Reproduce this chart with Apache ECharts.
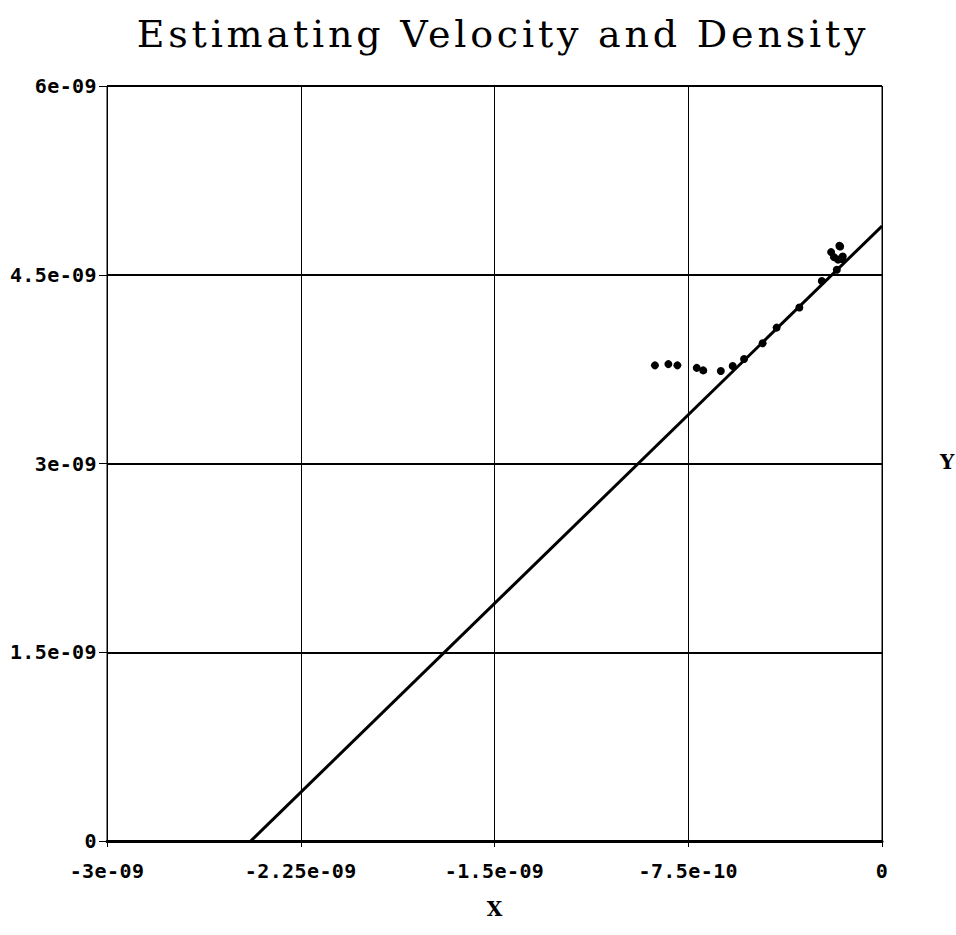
<!DOCTYPE html>
<html>
<head>
<meta charset="utf-8">
<script src="https://cdn.jsdelivr.net/npm/echarts@6/dist/echarts.min.js"></script>
<style>
  html, body { margin: 0; padding: 0; background: #fff; }
  #chart { width: 956px; height: 935px; }
  /* wide tracking for the heading, slight tracking for tick numbers */
  #chart text[style*="38px"] { letter-spacing: 3.8px; }
  #chart text[style*="Mono"] { letter-spacing: 0.4px; }
</style>
</head>
<body>
<div id="chart"></div>
<script>
// Measured samples
var sampleX = [-8.79e-10, -8.27e-10, -7.92e-10, -7.17e-10, -6.92e-10, -6.24e-10, -5.78e-10,
               -5.34e-10, -4.62e-10, -4.08e-10, -3.20e-10, -2.33e-10, -1.75e-10,
               -1.97e-10, -1.86e-10, -1.70e-10, -1.55e-10, -1.52e-10, -1.65e-10, -1.62e-10];
var sampleY = [3.78e-9, 3.79e-9, 3.78e-9, 3.76e-9, 3.74e-9, 3.735e-9, 3.775e-9,
               3.83e-9, 3.955e-9, 4.08e-9, 4.24e-9, 4.45e-9, 4.54e-9,
               4.68e-9, 4.64e-9, 4.62e-9, 4.625e-9, 4.645e-9, 4.73e-9, 4.725e-9];

// Fitted straight line (end points)
var fitX = [-2.4435e-9, 0];
var fitY = [0, 4.887e-9];

// Axis tick labels
var xTickValues = [-3e-9, -2.25e-9, -1.5e-9, -7.5e-10, 0];
var xTickLabels = ['-3e-09', '-2.25e-09', '-1.5e-09', '-7.5e-10', '0'];
var yTickValues = [0, 1.5e-9, 3e-9, 4.5e-9, 6e-9];
var yTickLabels = ['0', '1.5e-09', '3e-09', '4.5e-09', '6e-09'];

function tickText(values, labels) {
  return function (v) {
    for (var i = 0; i < values.length; i++) {
      if (Math.abs(values[i] - v) < 1e-13) return labels[i];
    }
    return '';
  };
}

var pts = sampleX.map(function (x, i) { return [x, sampleY[i]]; });
var fitPts = fitX.map(function (x, i) { return [x, fitY[i]]; });

var tickFont = {
  fontFamily: 'DejaVu Sans Mono',
  fontSize: 20,
  fontWeight: 'bold',
  color: '#000'
};

var chart = echarts.init(document.getElementById('chart'), null, { renderer: 'svg' });
chart.setOption({
  backgroundColor: '#fff',
  animation: false,
  title: {
    text: 'Estimating Velocity and Density',
    left: 498,
    top: 10,
    textAlign: 'center',
    textStyle: {
      fontFamily: 'DejaVu Serif',
      fontSize: 38,
      fontWeight: 'normal',
      color: '#000'
    }
  },
  grid: { left: 107, right: 74, top: 86, bottom: 94, show: true, borderColor: '#000', borderWidth: 1 },
  xAxis: {
    type: 'value',
    min: -3e-9,
    max: 0,
    interval: 7.5e-10,
    name: 'X',
    nameLocation: 'middle',
    nameGap: 58,
    nameTextStyle: { fontFamily: 'DejaVu Serif', fontSize: 20, fontWeight: 'bold', color: '#000' },
    axisLine: { show: true, onZero: false, lineStyle: { color: '#000', width: 3 } },
    axisTick: { show: true, inside: false, length: 6, lineStyle: { color: '#000', width: 1 } },
    axisLabel: Object.assign({ margin: 20, formatter: tickText(xTickValues, xTickLabels) }, tickFont),
    splitLine: { show: true, lineStyle: { color: '#000', width: 1 } }
  },
  yAxis: {
    type: 'value',
    min: 0,
    max: 6e-9,
    interval: 1.5e-9,
    axisLine: { show: true, onZero: false, lineStyle: { color: '#000', width: 1 } },
    axisTick: { show: true, inside: false, length: 8, lineStyle: { color: '#000', width: 1 } },
    axisLabel: Object.assign({ margin: 10, formatter: tickText(yTickValues, yTickLabels) }, tickFont),
    splitLine: { show: true, lineStyle: { color: '#000', width: 2 } }
  },
  graphic: [{
    type: 'text',
    left: 940,
    top: 452,
    style: { text: 'Y', font: 'bold 20px "DejaVu Serif"', fill: '#000' }
  }],
  series: [
    {
      type: 'line',
      data: fitPts,
      showSymbol: false,
      lineStyle: { color: '#000', width: 3 },
      z: 3
    },
    {
      type: 'scatter',
      data: pts,
      symbol: 'circle',
      symbolSize: 8,
      itemStyle: { color: '#000', opacity: 1 },
      z: 4
    }
  ]
});
</script>
</body>
</html>
